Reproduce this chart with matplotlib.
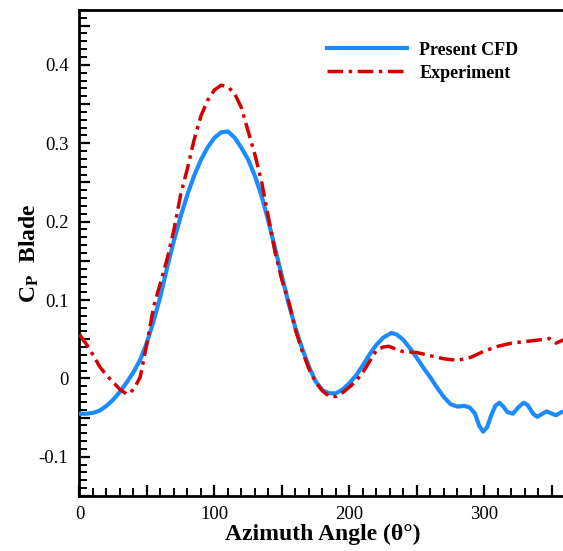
import numpy as np
import matplotlib
matplotlib.use('Agg')
import matplotlib.pyplot as plt
from matplotlib.ticker import MultipleLocator, FuncFormatter

plt.rcParams['font.family'] = ['Liberation Serif', 'DejaVu Serif']
plt.rcParams['mathtext.fontset'] = 'stix'

# Present CFD (blade power coefficient vs azimuth)
cfd_theta = [0, 5, 10, 15, 20, 25, 30, 35, 40, 45, 50, 55, 60, 65, 70, 75, 80, 85,
             90, 95, 100, 105, 110, 115, 120, 125, 130, 135, 140, 145, 150, 155,
             160, 165, 170, 175, 180, 185, 190, 195, 200, 205, 210, 215, 220, 225,
             231, 235, 240, 245, 250, 255, 260, 265, 270, 275, 280, 285, 289, 293,
             296, 299, 302, 305, 308, 311, 314, 317, 321, 325, 329, 332, 336, 339,
             343, 346, 350, 353, 357, 360]
cfd_cp = [-0.045, -0.045, -0.044, -0.041, -0.035, -0.027, -0.017, -0.005, 0.008,
          0.024, 0.046, 0.074, 0.105, 0.142, 0.176, 0.207, 0.235, 0.259, 0.279,
          0.295, 0.307, 0.314, 0.315, 0.307, 0.294, 0.279, 0.258, 0.232, 0.200,
          0.165, 0.130, 0.095, 0.064, 0.038, 0.015, -0.004, -0.015, -0.019,
          -0.019, -0.014, -0.006, 0.004, 0.017, 0.031, 0.043, 0.052, 0.058,
          0.056, 0.049, 0.038, 0.026, 0.013, 0.001, -0.012, -0.024, -0.033,
          -0.036, -0.035, -0.037, -0.045, -0.060, -0.068, -0.062, -0.047, -0.035,
          -0.031, -0.036, -0.043, -0.045, -0.037, -0.031, -0.034, -0.045, -0.049,
          -0.045, -0.042, -0.045, -0.047, -0.043, -0.042]

# Experiment
exp_theta = [0, 5, 10, 15, 20, 25, 30, 35, 38, 42, 45, 50, 55, 60, 65, 70, 75, 80,
             85, 90, 95, 100, 105, 110, 115, 120, 125, 130, 135, 140, 145, 150,
             155, 160, 165, 170, 175, 180, 185, 190, 195, 200, 205, 210, 215, 220,
             225, 229, 235, 240, 250, 260, 270, 280, 290, 300, 310, 320, 330, 340,
             348, 353, 357, 360]
exp_cp = [0.056, 0.044, 0.030, 0.015, 0.004, -0.005, -0.014, -0.020, -0.018,
          -0.008, 0.002, 0.045, 0.092, 0.122, 0.153, 0.190, 0.235, 0.268, 0.305,
          0.335, 0.355, 0.368, 0.374, 0.372, 0.363, 0.345, 0.315, 0.285, 0.250,
          0.205, 0.160, 0.125, 0.098, 0.062, 0.035, 0.012, -0.005, -0.016, -0.023,
          -0.023, -0.018, -0.011, -0.003, 0.008, 0.022, 0.036, 0.040, 0.041,
          0.037, 0.034, 0.033, 0.029, 0.025, 0.023, 0.027, 0.035, 0.041, 0.045,
          0.047, 0.049, 0.051, 0.045, 0.048, 0.050]

fig = plt.figure(figsize=(5.63, 5.51), dpi=100)
ax = fig.add_axes([0.1412, 0.0998, 0.8632, 0.8821])

ax.plot(cfd_theta, cfd_cp, color='#1a8cff', lw=3.0, label='Present CFD', zorder=3)
ax.plot(exp_theta, exp_cp, color='#d40000', lw=2.5, ls=(0, (4.5, 1.6, 1.0, 1.6)),
        label='Experiment', zorder=4)

ax.set_xlim(0, 360)
ax.set_ylim(-0.15, 0.47)

ax.xaxis.set_major_locator(MultipleLocator(50))
ax.xaxis.set_minor_locator(MultipleLocator(10))
ax.yaxis.set_major_locator(MultipleLocator(0.05))
ax.yaxis.set_minor_locator(MultipleLocator(0.01))


def xfmt(v, pos):
    return '%d' % round(v) if round(v) % 100 == 0 else ''


def yfmt(v, pos):
    k = round(v * 100)
    if k % 10 != 0:
        return ''
    if k == 0:
        return '0'
    return '%.1f' % (k / 100.0)


ax.xaxis.set_major_formatter(FuncFormatter(xfmt))
ax.yaxis.set_major_formatter(FuncFormatter(yfmt))

ax.tick_params(which='both', direction='in', top=False, right=False,
               labelsize=13.5, colors='black')
ax.tick_params(which='major', length=8, width=1.6)
ax.tick_params(which='minor', length=5.5, width=1.4)
ax.tick_params(axis='x', pad=7)
ax.tick_params(axis='y', pad=8)
for s in ax.spines.values():
    s.set_linewidth(2.0)

ax.set_xlabel('Azimuth Angle (θ°)', fontsize=17, fontweight='bold')
ax.set_ylabel(r'C$_\mathbf{P}$  Blade', fontsize=17, fontweight='bold')
ax.xaxis.set_label_coords(0.5, -0.057)
ax.yaxis.set_label_coords(-0.08, 0.5)

ax.legend(loc='upper right', bbox_to_anchor=(0.937, 0.968), frameon=False,
          prop={'weight': 'bold', 'size': 13}, handlelength=4.4,
          handletextpad=0.7, labelspacing=0.32)

fig.savefig('out.png', dpi=100)
